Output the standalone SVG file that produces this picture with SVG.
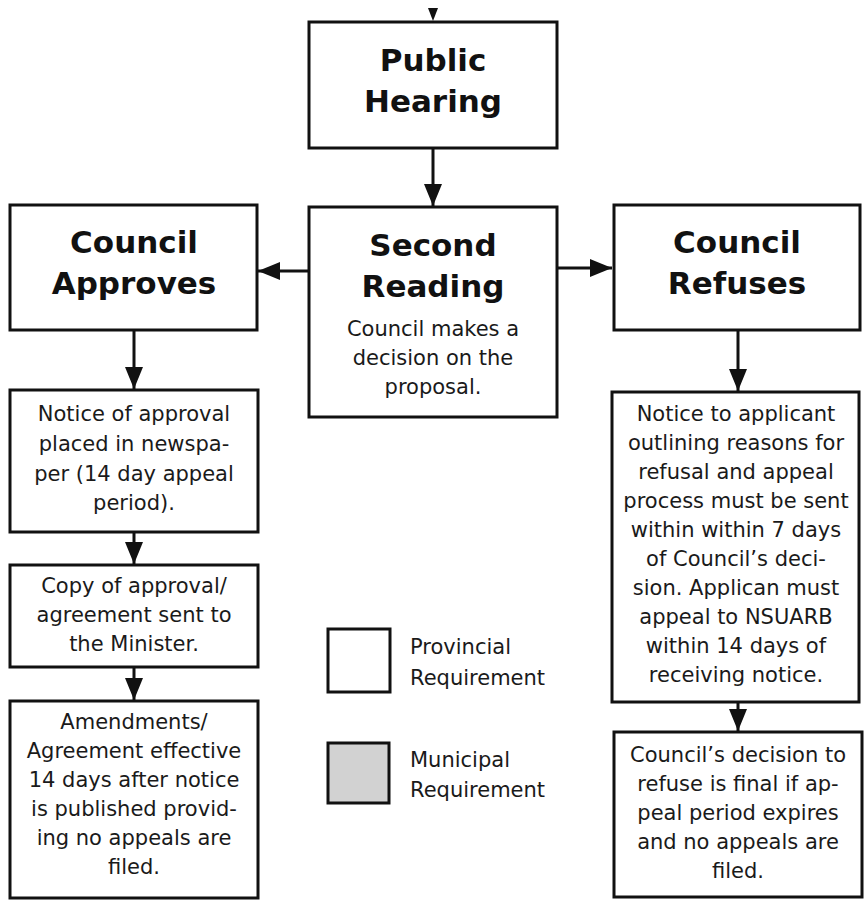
<svg xmlns="http://www.w3.org/2000/svg" width="866" height="905" viewBox="0 0 866 905">
<style>
.box{fill:#fff;stroke:#111;stroke-width:3}
.muni{fill:#d2d2d2;stroke:#111;stroke-width:3}
.t{font-family:"DejaVu Sans","Liberation Sans",sans-serif;font-size:21px;fill:#1a1a1a;text-anchor:middle}
.h{font-family:"DejaVu Sans","Liberation Sans",sans-serif;font-size:31px;font-weight:bold;fill:#111;text-anchor:middle}
.lg{font-family:"DejaVu Sans","Liberation Sans",sans-serif;font-size:21px;fill:#1a1a1a}
.c{stroke:#111;stroke-width:3;fill:none}
</style>
<defs>
<marker id="ah" markerUnits="userSpaceOnUse" markerWidth="22" markerHeight="18" viewBox="0 0 22 18" refX="22" refY="9" orient="auto">
<path d="M0,0 L22,9 L0,18 Z" fill="#111"/>
</marker>
</defs>
<rect width="866" height="905" fill="#fff"/>
<g id="connectors">
<path d="M428,8 L438,8 L433,21 Z" fill="#111"/>
<line class="c" x1="433" y1="148" x2="433" y2="206" marker-end="url(#ah)"/>
<line class="c" x1="309" y1="271" x2="258" y2="271" marker-end="url(#ah)"/>
<line class="c" x1="557" y1="268" x2="612" y2="268" marker-end="url(#ah)"/>
<line class="c" x1="134" y1="331" x2="134" y2="389" marker-end="url(#ah)"/>
<line class="c" x1="134" y1="532" x2="134" y2="564" marker-end="url(#ah)"/>
<line class="c" x1="134" y1="667" x2="134" y2="700" marker-end="url(#ah)"/>
<line class="c" x1="738" y1="331" x2="738" y2="391" marker-end="url(#ah)"/>
<line class="c" x1="738" y1="702" x2="738" y2="731" marker-end="url(#ah)"/>
</g>
<g id="public-hearing">
<rect class="box" x="309" y="22" width="248" height="126"/>
<text class="h" x="433" y="71">Public</text>
<text class="h" x="433" y="112">Hearing</text>
</g>
<g id="second-reading">
<rect class="box" x="309" y="207" width="248" height="210"/>
<text class="h" x="433" y="256">Second</text>
<text class="h" x="433" y="297">Reading</text>
<text class="t" x="433" y="336">Council makes a</text>
<text class="t" x="433" y="365">decision on the</text>
<text class="t" x="433" y="394">proposal.</text>
</g>
<g id="council-approves">
<rect class="box" x="10" y="205" width="247" height="125"/>
<text class="h" x="134" y="253">Council</text>
<text class="h" x="134" y="294">Approves</text>
</g>
<g id="council-refuses">
<rect class="box" x="614" y="205" width="246" height="125"/>
<text class="h" x="737" y="253">Council</text>
<text class="h" x="737" y="294">Refuses</text>
</g>
<g id="notice-approval">
<rect class="box" x="10" y="390" width="248" height="142"/>
<text class="t" x="134" y="421">Notice of approval</text>
<text class="t" x="134" y="451">placed in newspa-</text>
<text class="t" x="134" y="481">per (14 day appeal</text>
<text class="t" x="134" y="510">period).</text>
</g>
<g id="copy-approval">
<rect class="box" x="10" y="565" width="248" height="102"/>
<text class="t" x="134" y="593">Copy of approval/</text>
<text class="t" x="134" y="622">agreement sent to</text>
<text class="t" x="134" y="651">the Minister.</text>
</g>
<g id="amendments">
<rect class="box" x="10" y="701" width="248" height="197"/>
<text class="t" x="134" y="729">Amendments/</text>
<text class="t" x="134" y="758">Agreement effective</text>
<text class="t" x="134" y="787">14 days after notice</text>
<text class="t" x="134" y="816">is published provid-</text>
<text class="t" x="134" y="845">ing no appeals are</text>
<text class="t" x="134" y="874">filed.</text>
</g>
<g id="notice-applicant">
<rect class="box" x="612" y="392" width="247" height="310"/>
<text class="t" x="736" y="421">Notice to applicant</text>
<text class="t" x="736" y="450">outlining reasons for</text>
<text class="t" x="736" y="479">refusal and appeal</text>
<text class="t" x="736" y="508">process must be sent</text>
<text class="t" x="736" y="537">within within 7 days</text>
<text class="t" x="736" y="566">of Council’s deci-</text>
<text class="t" x="736" y="595">sion. Applican must</text>
<text class="t" x="736" y="624">appeal to NSUARB</text>
<text class="t" x="736" y="653">within 14 days of</text>
<text class="t" x="736" y="682">receiving notice.</text>
</g>
<g id="council-decision">
<rect class="box" x="614" y="732" width="248" height="165"/>
<text class="t" x="738" y="762">Council’s decision to</text>
<text class="t" x="738" y="791">refuse is final if ap-</text>
<text class="t" x="738" y="820">peal period expires</text>
<text class="t" x="738" y="849">and no appeals are</text>
<text class="t" x="738" y="878">filed.</text>
</g>
<g id="legend">
<rect class="box" x="328" y="629" width="62" height="63"/>
<text class="lg" x="410" y="654">Provincial</text>
<text class="lg" x="410" y="685">Requirement</text>
<rect class="muni" x="328" y="743" width="61" height="60"/>
<text class="lg" x="410" y="767">Municipal</text>
<text class="lg" x="410" y="797">Requirement</text>
</g>
</svg>
